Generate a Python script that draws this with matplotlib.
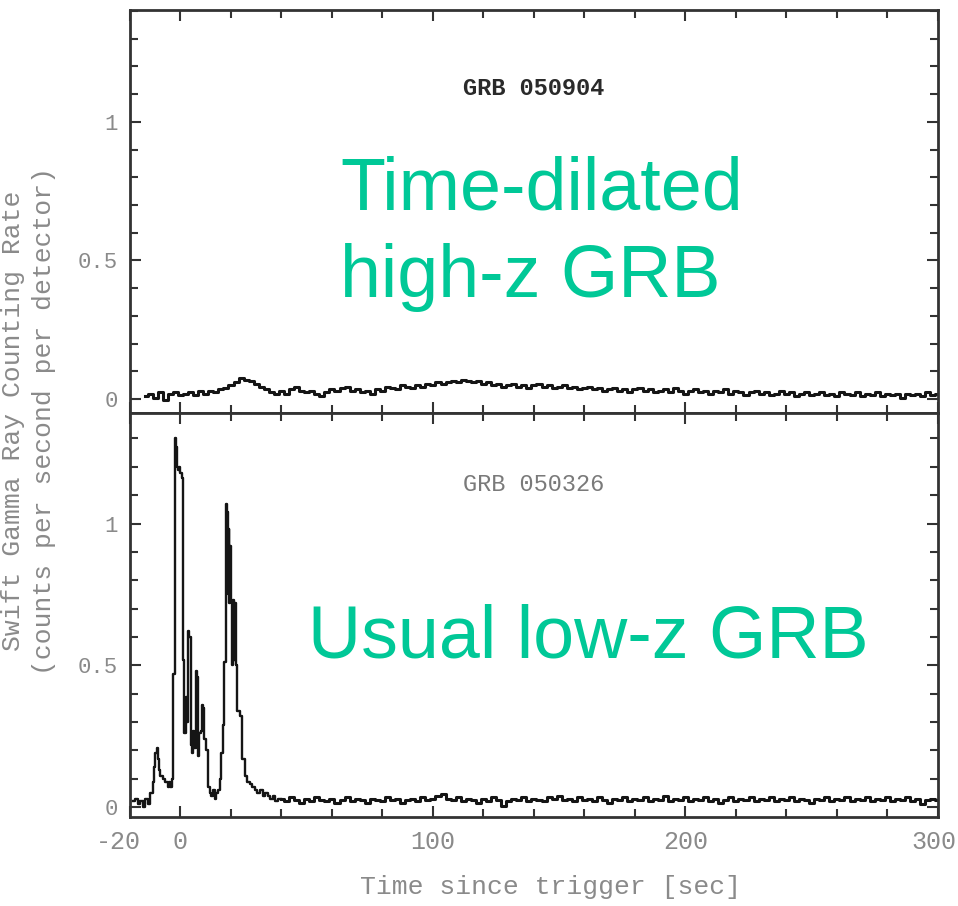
import numpy as np
import matplotlib
matplotlib.use('Agg')
from matplotlib import pyplot as plt
from matplotlib import transforms
from matplotlib.ticker import MultipleLocator, FixedLocator, FixedFormatter

# GRB 050904 (top), 2 s bins from -14 to 300
t_top = np.arange(-14, 301, 2)
rate_top = [0.01, 0.02, 0.005, 0.025, -0.005, 0.02, 0.025, 0.015,
            0.02, 0.025, 0.015, 0.03, 0.02, 0.03, 0.025, 0.035, 0.04, 0.05,
            0.06, 0.075, 0.07, 0.065, 0.055, 0.045, 0.035,
            0.025, 0.02, 0.03, 0.02, 0.035, 0.045, 0.03, 0.025,
            0.03, 0.02, 0.01, 0.025, 0.035, 0.03, 0.04, 0.045, 0.03, 0.035,
            0.025, 0.03, 0.02, 0.035, 0.03, 0.045, 0.04, 0.035, 0.05, 0.045,
            0.04, 0.05, 0.045, 0.055, 0.05, 0.06, 0.055, 0.06, 0.065, 0.06,
            0.07, 0.065, 0.06, 0.065, 0.055, 0.06, 0.05, 0.055, 0.045, 0.05,
            0.055, 0.045, 0.05, 0.04, 0.05, 0.055, 0.045, 0.05, 0.04, 0.045,
            0.05, 0.04, 0.045, 0.035, 0.04, 0.045, 0.035, 0.04, 0.03, 0.035,
            0.04, 0.03, 0.035, 0.025, 0.035, 0.04, 0.03, 0.035, 0.025, 0.03,
            0.035, 0.025, 0.04, 0.03, 0.02, 0.03, 0.035, 0.025, 0.03, 0.02,
            0.03, 0.025, 0.035, 0.02, 0.03, 0.025, 0.015, 0.025, 0.03, 0.02,
            0.025, 0.015, 0.02, 0.03, 0.02, 0.025, 0.01, 0.02, 0.025, 0.015,
            0.02, 0.025, 0.015, 0.02, 0.01, 0.025, 0.02, 0.015, 0.025, 0.01,
            0.02, 0.015, 0.025, 0.01, 0.02, 0.015, 0.02, 0.005, 0.02, 0.015,
            0.02, 0.01, 0.025, 0.015, 0.02]

# GRB 050326 (bottom), burst part as steps
t_burst = [-19.0, -18.0, -17.0, -16.0, -15.0, -14.0, -13.0, -12.0, -11.0, -10.5,
           -10.0, -9.5, -9.0, -8.5, -8.0, -7.0, -6.0, -5.0, -4.5, -4.0,
           -3.5, -3.0, -2.2, -2.0, -1.7, -1.4, -1.0, -0.5, 0.0, 0.5,
           1.0, 1.5, 2.0, 2.5, 3.0, 3.5, 4.0, 4.5, 5.0, 5.5,
           6.0, 6.5, 7.0, 7.5, 8.0, 8.5, 9.0, 9.5, 10.0, 11.0,
           11.5, 12.0, 13.0, 13.5, 14.0, 15.0, 15.5, 16.0, 16.7, 17.3,
           18.0, 18.4, 18.8, 19.1, 19.4, 19.7, 20.0, 20.4, 20.8, 21.2,
           21.6, 22.0, 22.4, 23.5, 24.5, 25.5, 26.5, 27.5, 28.5, 29.5,
           30.5, 31.5, 32.5, 33.5, 34.5, 35.5, 36.5, 37.5, 38.5, 40.0]
rate_burst = [0.02, 0.03, 0.01, 0.02, 0.0, 0.03, 0.01, 0.05, 0.09, 0.14,
              0.19, 0.21, 0.17, 0.13, 0.11, 0.10, 0.09, 0.07, 0.09, 0.07,
              0.10, 0.47, 1.24, 1.30, 1.27, 1.20, 1.19, 1.20, 1.18, 1.16,
              0.52, 0.26, 0.39, 0.30, 0.62, 0.60, 0.22, 0.19, 0.27, 0.21,
              0.48, 0.46, 0.18, 0.26, 0.27, 0.36, 0.35, 0.24, 0.20, 0.07,
              0.05, 0.04, 0.06, 0.03, 0.05, 0.06, 0.10, 0.19, 0.29, 0.51,
              1.07, 1.04, 0.75, 0.98, 0.72, 0.92, 0.73, 0.50, 0.73, 0.52,
              0.72, 0.50, 0.34, 0.32, 0.17, 0.11, 0.09, 0.08, 0.07, 0.06,
              0.05, 0.06, 0.04, 0.05, 0.04, 0.03, 0.04, 0.02, 0.03, 0.03]

# GRB 050326 tail, 2 s bins from 40 to 300
t_tail = np.arange(40, 301, 2)
rate_tail = [0.03, 0.02, 0.035, 0.025, 0.015, 0.03, 0.02, 0.035, 0.025, 0.02,
             0.03, 0.015, 0.025, 0.035, 0.02, 0.03, 0.025, 0.015, 0.03, 0.025,
             0.02, 0.035, 0.025, 0.03, 0.015, 0.025, 0.03, 0.02, 0.035, 0.025,
             0.03, 0.04, 0.045, 0.03, 0.025, 0.035, 0.02, 0.03, 0.025, 0.015,
             0.03, 0.02, 0.035, 0.025, 0.005, 0.02, 0.03, 0.025, 0.035, 0.02,
             0.03, 0.025, 0.02, 0.035, 0.03, 0.04, 0.025, 0.03, 0.02, 0.035,
             0.025, 0.03, 0.02, 0.035, 0.025, 0.015, 0.03, 0.025, 0.035, 0.02,
             0.03, 0.025, 0.035, 0.02, 0.03, 0.025, 0.04, 0.02, 0.03, 0.025,
             0.035, 0.02, 0.03, 0.025, 0.035, 0.02, 0.03, 0.015, 0.025, 0.035,
             0.02, 0.03, 0.025, 0.035, 0.02, 0.03, 0.025, 0.035, 0.02, 0.03,
             0.025, 0.035, 0.02, 0.03, 0.025, 0.015, 0.03, 0.025, 0.035, 0.02,
             0.03, 0.025, 0.035, 0.02, 0.03, 0.025, 0.035, 0.02, 0.03, 0.025,
             0.035, 0.02, 0.03, 0.025, 0.035, 0.02, 0.03, 0.01, 0.025, 0.03,
             0.025]

ytick_vals = [0, 0.5, 1]
ytick_text = ['0', '0.5', '1']
xtick_vals = [-20, 0, 100, 200, 300]
xtick_text = ['-20', '0', '100', '200', '300']

mono = 'Liberation Mono'
grey = '#8a8a8a'
green = '#00c897'
ink = '#151515'

fig = plt.figure(figsize=(9.58, 9.06), dpi=100)
ax1 = fig.add_axes([0.1357, 0.5442, 0.8433, 0.4453])
ax2 = fig.add_axes([0.1357, 0.0982, 0.8433, 0.4460], sharex=ax1)

ax1.plot(t_top, rate_top, color=ink, lw=2.2, drawstyle='steps-mid')
ax2.step(t_burst, rate_burst, where='post', color=ink, lw=1.7)
ax2.plot(t_tail, rate_tail, color=ink, lw=2.2, drawstyle='steps-mid')

ax1.set_ylim(-0.05, 1.405)
ax2.set_ylim(-0.035, 1.39)

for ax in (ax1, ax2):
    ax.set_xlim(-20, 300)
    ax.xaxis.set_major_locator(FixedLocator(xtick_vals))
    ax.xaxis.set_minor_locator(MultipleLocator(20))
    ax.yaxis.set_major_locator(FixedLocator(ytick_vals))
    ax.yaxis.set_major_formatter(FixedFormatter(ytick_text))
    ax.yaxis.set_minor_locator(MultipleLocator(0.1))
    ax.tick_params(which='both', direction='in', top=True, right=True,
                   color='#333333', width=1.5)
    ax.tick_params(which='major', length=8)
    ax.tick_params(which='minor', length=6)
    ax.tick_params(axis='y', labelsize=16, labelcolor=grey, pad=9)
    ax.tick_params(axis='x', labelsize=18, labelcolor=grey, pad=9)
    for s in ax.spines.values():
        s.set_color('#333333')
        s.set_linewidth(2)

ax2.xaxis.set_major_formatter(FixedFormatter(xtick_text))
plt.setp(ax1.get_xticklabels(), visible=False)
for lab in ax2.get_xticklabels() + ax2.get_yticklabels() + ax1.get_yticklabels():
    lab.set_family(mono)

# nudge the end labels like in the original
xlabs = ax2.get_xticklabels()
xlabs[0].set_transform(xlabs[0].get_transform() + transforms.Affine2D().translate(-12, 0))
xlabs[-1].set_transform(xlabs[-1].get_transform() + transforms.Affine2D().translate(-4, 0))

ax1.text(0.5, 0.803, 'GRB 050904', transform=ax1.transAxes, ha='center', va='center',
         family=mono, fontsize=17, fontweight='bold', color='#2a2a2a')
ax2.text(0.5, 0.824, 'GRB 050326', transform=ax2.transAxes, ha='center', va='center',
         family=mono, fontsize=17, color='#7a7a7a')

fig.text(0.355, 1 - 210 / 906, 'Time-dilated', ha='left', va='baseline',
         family='Liberation Sans', fontsize=53, color=green)
fig.text(0.355, 1 - 297 / 906, 'high-z GRB', ha='left', va='baseline',
         family='Liberation Sans', fontsize=53, color=green)
fig.text(0.3215, 1 - 657 / 906, 'Usual low-z GRB', ha='left', va='baseline',
         family='Liberation Sans', fontsize=53, color=green)

fig.text(13 / 958, 1 - 421 / 906, 'Swift Gamma Ray Counting Rate', rotation=90,
         ha='center', va='center', family=mono, fontsize=19, color=grey)
fig.text(44 / 958, 1 - 421 / 906, '(counts per second per detector)', rotation=90,
         ha='center', va='center', family=mono, fontsize=19, color=grey)
fig.text(550 / 958, 1 - 887 / 906, 'Time since trigger [sec]', ha='center', va='center',
         family=mono, fontsize=19, color=grey)

fig.savefig('out.png', dpi=100)
